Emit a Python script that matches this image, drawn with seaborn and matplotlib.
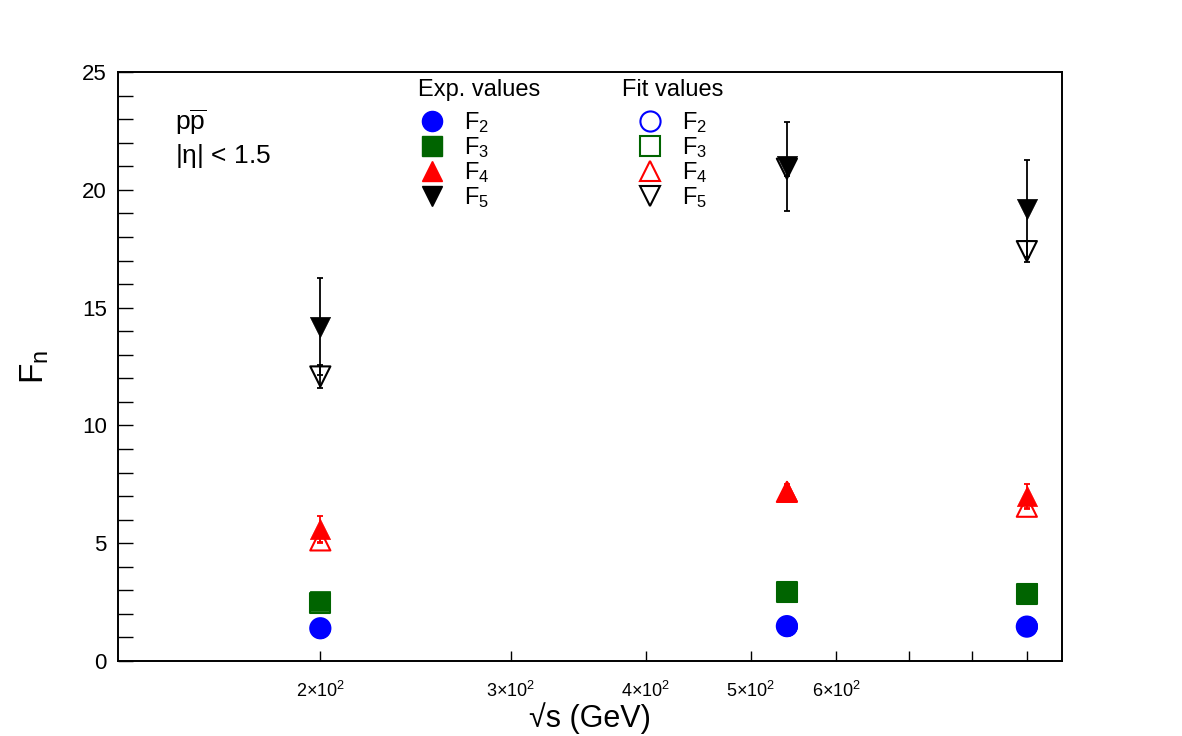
import matplotlib
matplotlib.use("Agg")
import matplotlib.pyplot as plt
from matplotlib.lines import Line2D
import numpy as np
import seaborn as sns

# sqrt(s) in GeV
sqrt_s = [200, 540, 900]

# measured factorial moments (Exp. values)
f2_exp = [1.40, 1.49, 1.47]
f3_exp = [2.55, 2.95, 2.90]
f4_exp = [5.62, 7.20, 7.00]
f5_exp = [14.2, 21.0, 19.2]
f2_exp_err = [0.05, 0.05, 0.05]
f3_exp_err = [0.10, 0.10, 0.10]
f4_exp_err = [0.55, 0.30, 0.52]
f5_exp_err = [2.07, 1.90, 2.05]

# fit results (Fit values)
f2_fit = [1.39, 1.48, 1.46]
f3_fit = [2.45, 2.92, 2.83]
f4_fit = [5.12, 7.18, 6.55]
f5_fit = [12.08, 20.9, 17.4]
f4_fit_err = [0.10, 0.05, 0.10]
f5_fit_err = [0.48, 0.30, 0.45]

names = ["F$_2$", "F$_3$", "F$_4$", "F$_5$"]
colors = ["#0000ff", "#006400", "#ff0000", "#000000"]
markers = ["o", "s", "^", "v"]

sns.set_style("white")
plt.rcParams["font.family"] = ["Liberation Sans", "DejaVu Sans"]
plt.rcParams["mathtext.fontset"] = "custom"
plt.rcParams["mathtext.rm"] = "Liberation Sans"
plt.rcParams["mathtext.it"] = "Liberation Sans:italic"
plt.rcParams["mathtext.default"] = "regular"
for k in ["text.color", "axes.labelcolor", "xtick.color", "ytick.color"]:
    plt.rcParams[k] = "black"

fig = plt.figure(figsize=(11.82, 7.36), dpi=100)
ax = fig.add_axes([0.0998, 0.1019, 0.7987, 0.8001])

exp_vals = [f2_exp, f3_exp, f4_exp, f5_exp]
exp_errs = [f2_exp_err, f3_exp_err, f4_exp_err, f5_exp_err]
fit_vals = [f2_fit, f3_fit, f4_fit, f5_fit]
fit_errs = [[0, 0, 0], [0, 0, 0], f4_fit_err, f5_fit_err]

ms = 14.5
# fit values first (open markers), then exp values on top
for v, e, c, m in zip(fit_vals, fit_errs, colors, markers):
    ax.errorbar(sqrt_s, v, yerr=e, fmt="none", ecolor=c, elinewidth=1.3,
                capsize=2, capthick=1.3, zorder=2)
    sns.scatterplot(x=sqrt_s, y=v, marker=m, s=ms**2, facecolor="none",
                    edgecolor=c, linewidth=1.5, ax=ax, zorder=3)
for v, e, c, m in zip(exp_vals, exp_errs, colors, markers):
    ax.errorbar(sqrt_s, v, yerr=e, fmt="none", ecolor=c, elinewidth=1.3,
                capsize=2, capthick=1.3, zorder=4)
    sns.scatterplot(x=sqrt_s, y=v, marker=m, s=ms**2, color=c,
                    edgecolor=c, linewidth=0.5, ax=ax, zorder=5)

ax.set_xscale("log")
ax.set_xlim(130, 970)
ax.set_ylim(0, 25)
ax.xaxis.set_minor_locator(matplotlib.ticker.NullLocator())
ax.set_xticks([200, 300, 400, 500, 600, 700, 800, 900])
ax.set_xticklabels([r"2$\times$10$^2$", r"3$\times$10$^2$", r"4$\times$10$^2$",
                    r"5$\times$10$^2$", r"6$\times$10$^2$", "", "", ""], fontsize=13)
ax.set_yticks(np.arange(0, 26, 5))
ax.set_yticks(np.arange(0, 26, 1), minor=True)
ax.tick_params(axis="y", which="both", direction="in", length=11, width=1,
               labelsize=16, left=True, right=False, pad=8)
ax.tick_params(axis="x", which="major", direction="in", length=7, width=1,
               bottom=True, top=False, pad=14)
for sp in ax.spines.values():
    sp.set_linewidth(1.4)
    sp.set_color("black")

ax.set_xlabel("\u221As (GeV)", fontsize=22, labelpad=1)
ax.set_ylabel(r"F$_n$", fontsize=24, labelpad=22)

ax.text(0.060, 0.915, r"p$\overline{\rm p}$", transform=ax.transAxes, fontsize=19, va="center")
ax.text(0.060, 0.858, r"|$\eta$| < 1.5", transform=ax.transAxes, fontsize=19, va="center")

# legend column titles
ax.text(0.318, 0.970, "Exp. values", transform=ax.transAxes, fontsize=17, va="center")
ax.text(0.534, 0.970, "Fit values", transform=ax.transAxes, fontsize=17, va="center")

exp_handles = [Line2D([], [], ls="none", marker=m, ms=ms, color=c, mec=c)
               for c, m in zip(colors, markers)]
fit_handles = [Line2D([], [], ls="none", marker=m, ms=ms, mfc="none", mec=c, mew=1.5)
               for c, m in zip(colors, markers)]

leg_kw = dict(loc="upper left", frameon=False, fontsize=17, handletextpad=0.75,
              labelspacing=0.0, handlelength=1.2, borderpad=0.2)
leg1 = ax.legend(exp_handles, names, bbox_to_anchor=(0.2998, 0.963), **leg_kw)
ax.add_artist(leg1)
ax.legend(fit_handles, names, bbox_to_anchor=(0.5313, 0.963), **leg_kw)

fig.savefig("out.png", dpi=100)
